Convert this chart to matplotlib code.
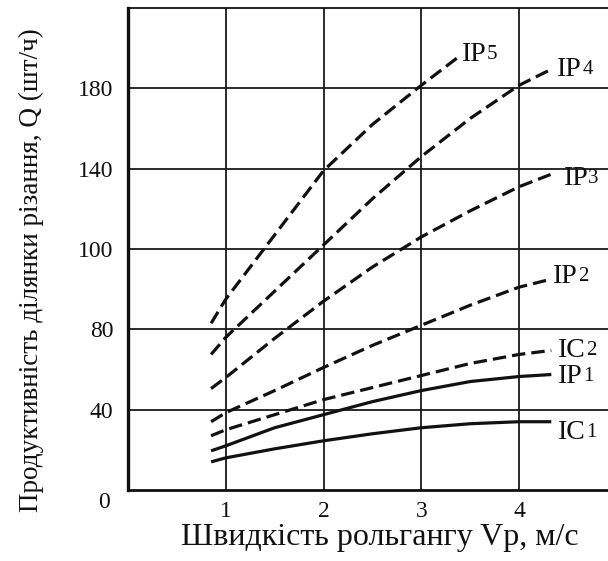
import numpy as np
import matplotlib
matplotlib.use("Agg")
import matplotlib.pyplot as plt

plt.rcParams['font.family'] = ['Liberation Serif', 'DejaVu Serif']

# ---- data ----
y_tick_labels = [0, 40, 80, 100, 140, 180]     # evenly spaced on the original axis
x_ticks = [1, 2, 3, 4]

v_common = [0.85, 1.0, 1.5, 2.0, 2.5, 3.0, 3.5, 4.0]

ic1_x = v_common + [4.33]
ic1_q = [14, 16, 20.5, 24.5, 28, 31, 33, 34, 34]

ip1_x = v_common + [4.33]
ip1_q = [19.5, 22, 31, 37.5, 44, 49.5, 54, 56.5, 57.5]

ic2_x = v_common + [4.33]
ic2_q = [27, 30, 37.5, 45, 51, 57, 63, 67.5, 69.5]

ip2_x = v_common + [4.33]
ip2_q = [34, 38.5, 49.5, 61, 72, 81, 86, 90.5, 92.5]

ip3_x = v_common + [4.37]
ip3_q = [50.5, 56, 75.5, 87, 95.5, 106, 119, 131, 138]

ip4_x = v_common + [4.35]
ip4_q = [67.5, 76, 89.5, 102, 125, 146, 165, 181.5, 190]

ip5_x = [0.85, 1.0, 1.5, 2.0, 2.5, 3.0, 3.39]
ip5_q = [81.5, 87.5, 107, 139, 162, 181.5, 196]

series = [
    ("IC", "1", ic1_x, ic1_q, "solid", (5, -8)),
    ("IP", "1", ip1_x, ip1_q, "solid", (5, -1.5)),
    ("IC", "2", ic2_x, ic2_q, "dashed", (5, 0)),
    ("IP", "2", ip2_x, ip2_q, "dashed", (1.5, 2)),
    ("IP", "3", ip3_x, ip3_q, "dashed", (6, -4)),
    ("IP", "4", ip4_x, ip4_q, "dashed", (3, -1)),
    ("IP", "5", ip5_x, ip5_q, "dashed", (2, 1)),
]

# ---- figure ----
W, H = 608, 561
fig = plt.figure(figsize=(W / 100, H / 100), dpi=100)
ax = fig.add_axes([128 / W, (H - 490) / H, (W - 128) / W, (490 - 8) / H])

# piecewise-linear scale: labelled values sit on evenly spaced gridlines
yv = y_tick_labels + [260]
yp = list(range(len(y_tick_labels))) + [len(y_tick_labels) + 1]


def fwd(v):
    return np.interp(v, yv, yp)


def inv(p):
    return np.interp(p, yp, yv)


ax.set_yscale('function', functions=(fwd, inv))
ax.set_xlim(0, 4.91)
ax.set_ylim(0, 220)

ink = '#111111'
for pre, num, xs, qs, style, off in series:
    if style == 'solid':
        ax.plot(xs, qs, color=ink, lw=2.3, solid_capstyle='butt', zorder=3)
    else:
        ax.plot(xs, qs, color=ink, lw=2.3, dashes=(4.2, 1.9), dash_capstyle='butt', zorder=3)
    t = ax.annotate(pre, xy=(xs[-1], qs[-1]), xytext=off, textcoords='offset points',
                    ha='left', va='center', fontsize=20, color=ink)
    ax.annotate(num, xy=(1, 0.12), xycoords=t, ha='left', va='bottom',
                fontsize=15, color=ink)

# grid
ax.set_xticks(x_ticks)
ax.set_yticks(y_tick_labels[1:])
ax.set_yticklabels([str(v) for v in y_tick_labels[1:]])
ax.set_xticklabels([str(v) for v in x_ticks])
ax.grid(True, color='#1a1a1a', lw=1.3)
ax.set_axisbelow(True)
ax.tick_params(axis='both', length=0, labelsize=17, colors=ink)
ax.tick_params(axis='y', pad=10.5)
ax.tick_params(axis='x', pad=8.0)

ax.spines['right'].set_visible(False)
ax.spines['left'].set_linewidth(2.4)
ax.spines['bottom'].set_linewidth(2.0)
ax.spines['top'].set_linewidth(1.3)
for s in ['left', 'bottom', 'top']:
    ax.spines[s].set_color(ink)

fig.text(110 / W, 1 - 503 / H, str(y_tick_labels[0]), ha='right', va='center',
         fontsize=17, color=ink)

fig.text(380 / W, 1 - 537 / H, 'Швидкість рольгангу Vр, м/с', ha='center', va='center',
         fontsize=23, color=ink)
fig.text(31 / W, 1 - 270 / H, 'Продуктивність ділянки різання, Q (шт/ч)', ha='center',
         va='center', rotation=90, fontsize=19.5, color=ink)

fig.savefig('out.png', dpi=100, facecolor='white')
